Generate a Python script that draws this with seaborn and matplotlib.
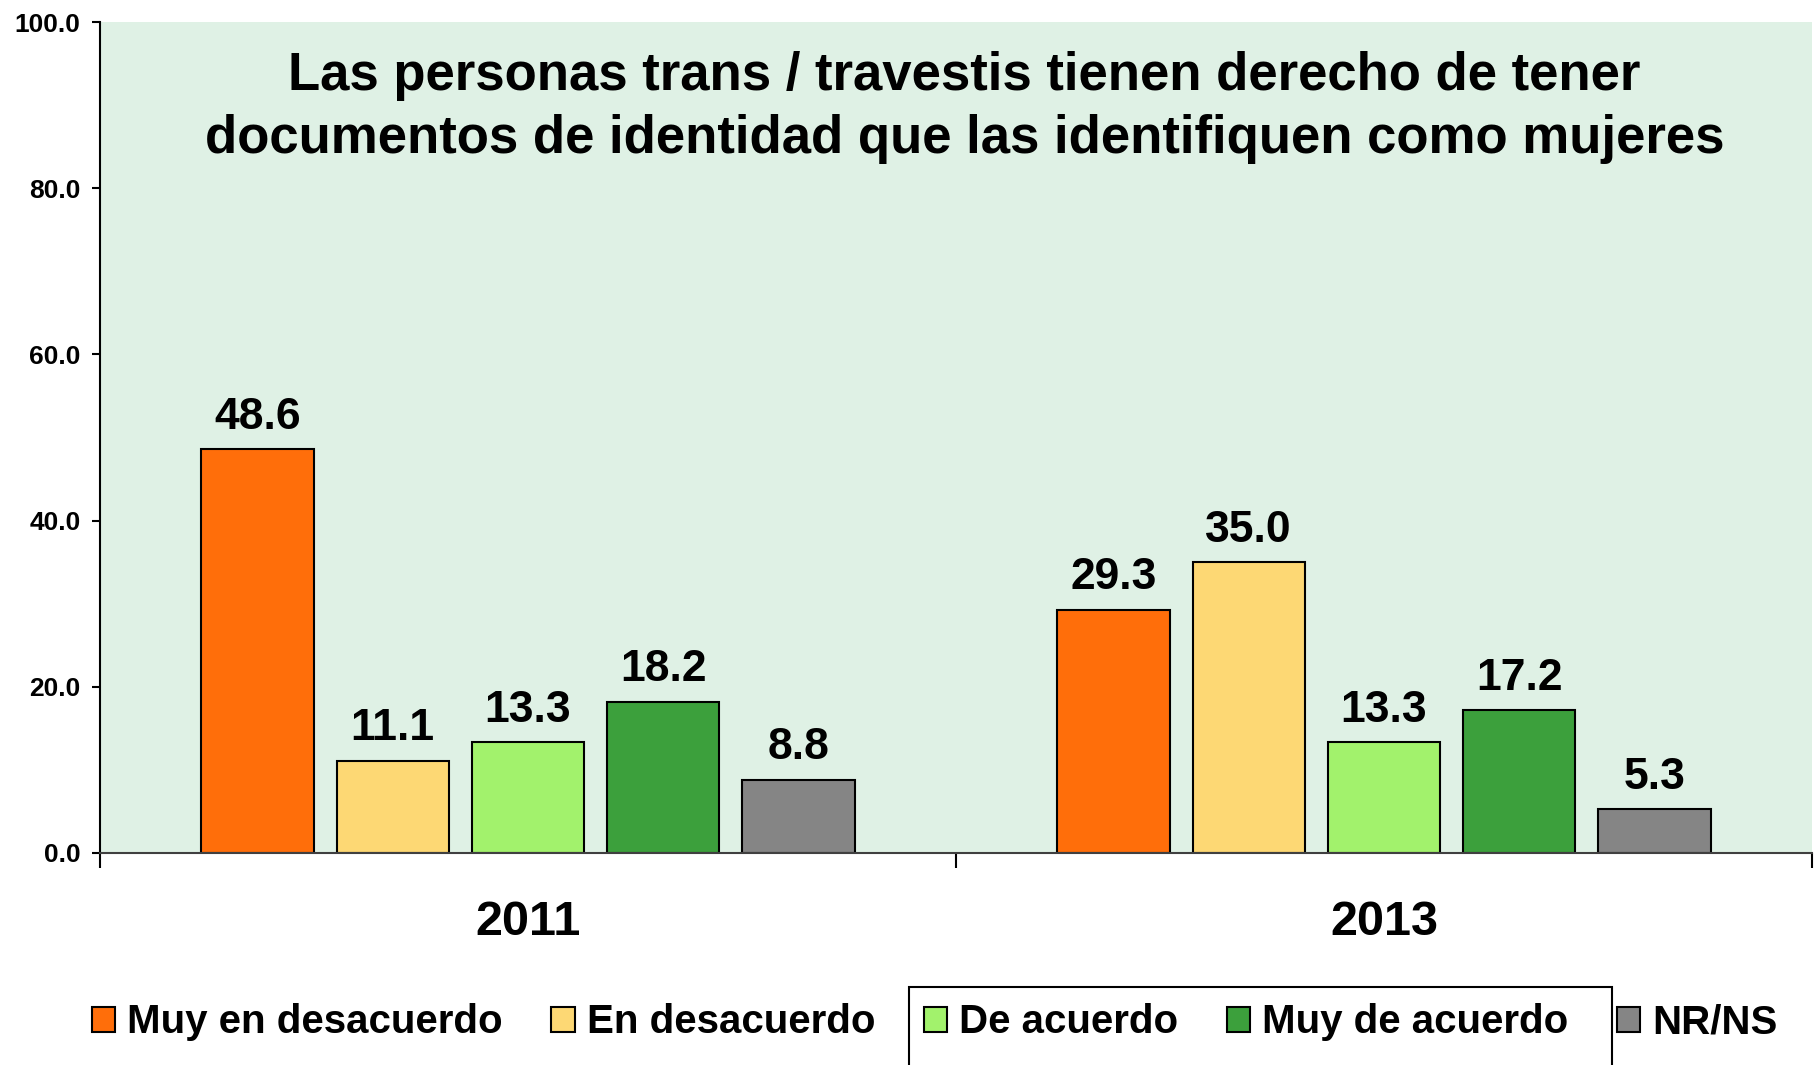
import pandas as pd
import matplotlib
matplotlib.use("Agg")
import matplotlib.pyplot as plt
import seaborn as sns
from matplotlib.patches import Rectangle

# ==========================
# DATA
# ==========================

years = ["2011", "2013"]
answers = ["Muy en desacuerdo", "En desacuerdo", "De acuerdo", "Muy de acuerdo", "NR/NS"]
values_2011 = [48.6, 11.1, 13.3, 18.2, 8.8]
values_2013 = [29.3, 35.0, 13.3, 17.2, 5.3]
colors = ["#FF6E0A", "#FDD874", "#A2F26C", "#3CA03C", "#858585"]
y_ticks = [0, 20, 40, 60, 80, 100]

title = ("Las personas trans / travestis tienen derecho de tener\n"
         "documentos de identidad que las identifiquen como mujeres")

df = pd.DataFrame({
    "year": [years[0]] * len(answers) + [years[1]] * len(answers),
    "answer": answers + answers,
    "value": values_2011 + values_2013,
})

# ==========================
# PLOT
# ==========================

sns.set_style("white")
plt.rcParams["font.family"] = ["Liberation Sans", "DejaVu Sans"]
for key in ["text.color", "axes.labelcolor", "xtick.color", "ytick.color"]:
    plt.rcParams[key] = "black"

fig = plt.figure(figsize=(18.15, 10.65), dpi=100)
ax = fig.add_axes([100 / 1815, 212 / 1065, 1712 / 1815, 831 / 1065])
ax.set_facecolor("#DFF1E5")

sns.barplot(data=df, x="year", y="value", hue="answer",
            order=years, hue_order=answers, palette=colors,
            width=0.79, gap=0.17, edgecolor="black", linewidth=1.5,
            saturation=1, ax=ax, legend=True)

# value labels
for container in ax.containers:
    for bar in container:
        h = bar.get_height()
        ax.annotate(f"{h:.1f}", (bar.get_x() + bar.get_width() / 2, h),
                    xytext=(0, 23), textcoords="offset points",
                    ha="center", va="center", fontsize=32, fontweight="bold")

ax.set_xlim(-0.5, 1.5)
ax.set_ylim(0, 100)
ax.set_yticks(y_ticks)
ax.set_yticklabels([f"{v:.1f}" for v in y_ticks], fontsize=19, fontweight="bold")
ax.set_xticks([0, 1])
ax.set_xticklabels(years, fontsize=35, fontweight="bold")
ax.set_xticks([-0.5, 0.5, 1.5], minor=True)
ax.tick_params(axis="x", which="major", length=0, pad=34)
ax.tick_params(axis="x", which="minor", length=11, width=1.5, color="black",
               direction="out", bottom=True)
ax.tick_params(axis="y", length=6, width=1.5, color="black", direction="out",
               left=True, pad=8)
ax.set_xlabel("")
ax.set_ylabel("")

for side in ["top", "right"]:
    ax.spines[side].set_visible(False)
ax.spines["left"].set_color("black")
ax.spines["left"].set_linewidth(1.5)
ax.spines["bottom"].set_color("#404040")
ax.spines["bottom"].set_linewidth(1.5)

ax.text(0.505, 0.897, title, transform=ax.transAxes, ha="center", va="center",
        multialignment="center", fontsize=38, fontweight="bold", linespacing=1.32)

# legend along the bottom
handles, labels = ax.get_legend_handles_labels()
ax.legend(handles, labels, loc="center", bbox_to_anchor=(0.515, 0.040),
          bbox_transform=fig.transFigure, ncol=5, frameon=False,
          prop={"weight": "bold", "size": 29},
          handlelength=0.58, handleheight=0.58, handletextpad=0.3,
          columnspacing=1.2, borderpad=0)

# stray box around two legend entries in the original
fig.patches.append(Rectangle((909 / 1815, -0.02), 703 / 1815, 78 / 1065 + 0.02,
                             transform=fig.transFigure, fill=False,
                             edgecolor="black", linewidth=1.5))

plt.savefig("out.png", dpi=100)
plt.close()
